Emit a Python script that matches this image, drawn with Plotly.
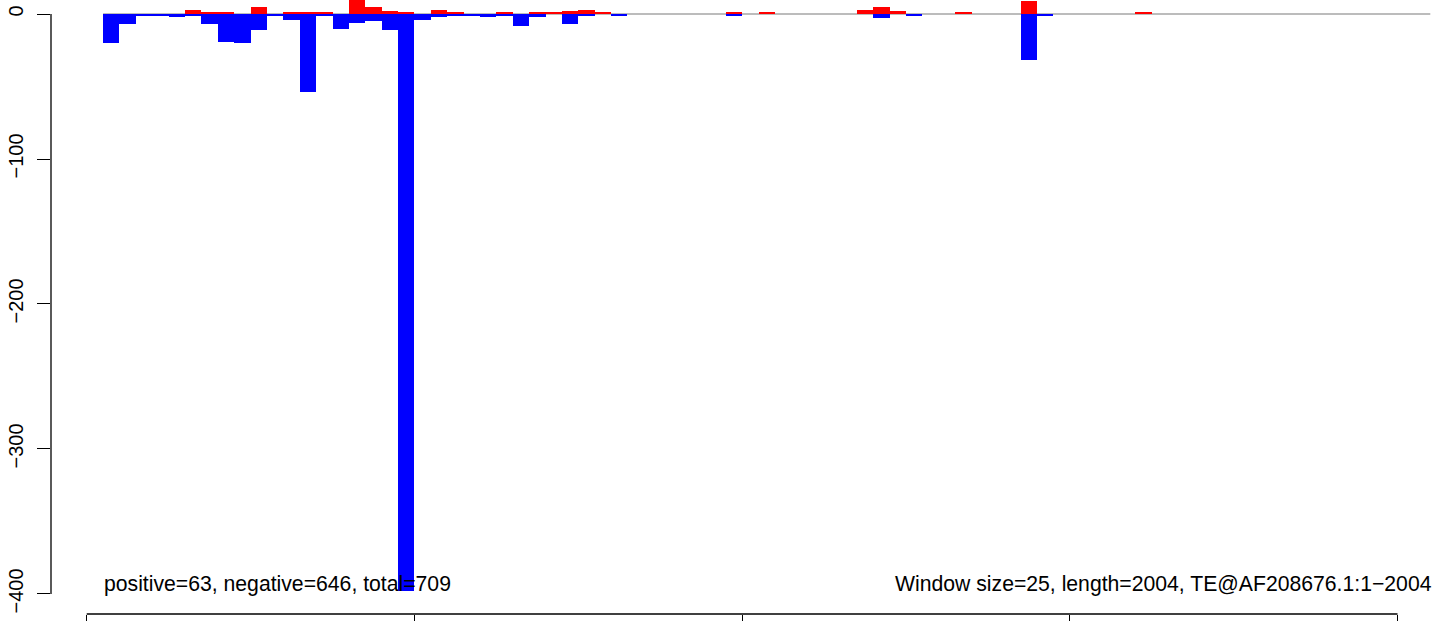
import numpy as np
import plotly.graph_objects as go

# counts per 25-nt window (window 1..81)
window_size = 25
positive = [
    0, 0, 0, 0, 0, 3, 1, 1, 0, 5,
    0, 1, 1, 1, 0, 10, 5, 2, 1, 0,
    3, 1, 0, 0, 1, 0, 1, 1, 2, 3,
    1, 0, 0, 0, 0, 0, 0, 0, 1, 0,
    1, 0, 0, 0, 0, 0, 3, 5, 2, 0,
    0, 0, 1, 0, 0, 0, 9, 0, 0, 0,
    0, 0, 0, 1, 0, 0, 0, 0, 0, 0,
    0, 0, 0, 0, 0, 0, 0, 0, 0, 0,
    0,
]
negative = [
    20, 7, 1, 1, 2, 1, 7, 19, 20, 11,
    1, 4, 54, 1, 10, 6, 5, 11, 398, 4,
    2, 1, 1, 2, 1, 8, 2, 0, 7, 1,
    0, 1, 0, 0, 0, 0, 0, 0, 1, 0,
    0, 0, 0, 0, 0, 0, 0, 3, 0, 1,
    0, 0, 0, 0, 0, 0, 32, 1, 0, 0,
    0, 0, 0, 0, 0, 0, 0, 0, 0, 0,
    0, 0, 0, 0, 0, 0, 0, 0, 0, 0,
    0,
]
y_ticks = [0, -100, -200, -300, -400]
x_ticks = [0, 500, 1000, 1500, 2000]
left_note = "positive=63, negative=646, total=709"
right_note = "Window size=25, length=2004, TE@AF208676.1:1\u22122004"

n = len(positive)
starts = window_size * np.arange(1, n + 1)
centers = starts + window_size / 2
x_end = window_size * (n + 1)

font = "Liberation Sans, Arial, sans-serif"

fig = go.Figure()

fig.add_trace(go.Bar(x=centers, y=positive, width=window_size,
                     marker=dict(color="#ff0000", line=dict(width=0))))
fig.add_trace(go.Bar(x=centers, y=[-v for v in negative], width=window_size,
                     marker=dict(color="#0000ff", line=dict(width=0))))

# zero line under the bars
fig.add_shape(type="line", xref="x", yref="y", x0=window_size, x1=x_end, y0=0, y1=0,
              line=dict(color="#a6a6a6", width=1.6), layer="below")
# R style axis lines (only between first and last tick)
fig.add_shape(type="line", xref="paper", yref="y", x0=0, x1=0, y0=y_ticks[0], y1=y_ticks[-1],
              line=dict(color="black", width=1.3))
fig.add_shape(type="line", xref="x", yref="paper", x0=x_ticks[0], x1=x_ticks[-1], y0=0, y1=0,
              line=dict(color="black", width=1.3))

fig.add_annotation(x=window_size, y=-393, text=left_note, showarrow=False, xshift=-1,
                   xanchor="left", yanchor="middle", font=dict(size=21.2, color="black", family=font))
fig.add_annotation(x=x_end, y=-393, text=right_note, showarrow=False, xshift=4,
                   xanchor="right", yanchor="middle", font=dict(size=21.2, color="black", family=font))

fig.update_layout(
    width=1444, height=621,
    margin=dict(l=51, r=0, t=0, b=7, pad=0, autoexpand=False),
    paper_bgcolor="white", plot_bgcolor="white",
    barmode="overlay", bargap=0, showlegend=False,
    font=dict(family=font, color="black"),
    xaxis=dict(range=[-54.5, 2070.9], tickvals=x_ticks, ticks="outside", ticklen=12,
               tickwidth=1.3, tickcolor="black", showticklabels=False, automargin=False,
               showgrid=False, zeroline=False, showline=False),
    yaxis=dict(range=[-413.8, 9.655], tickvals=y_ticks, ticks="outside", ticklen=13,
               tickwidth=1.3, tickcolor="black", tickangle=-90, ticklabelstandoff=6,
               tickfont=dict(size=20, color="black", family=font), automargin=False,
               showgrid=False, zeroline=False, showline=False),
)

# drop the browser's default body margin so the figure sits at the page corner
fig.write_html("out.html", config={"displayModeBar": False},
               post_script="document.body.style.margin='0px';")
